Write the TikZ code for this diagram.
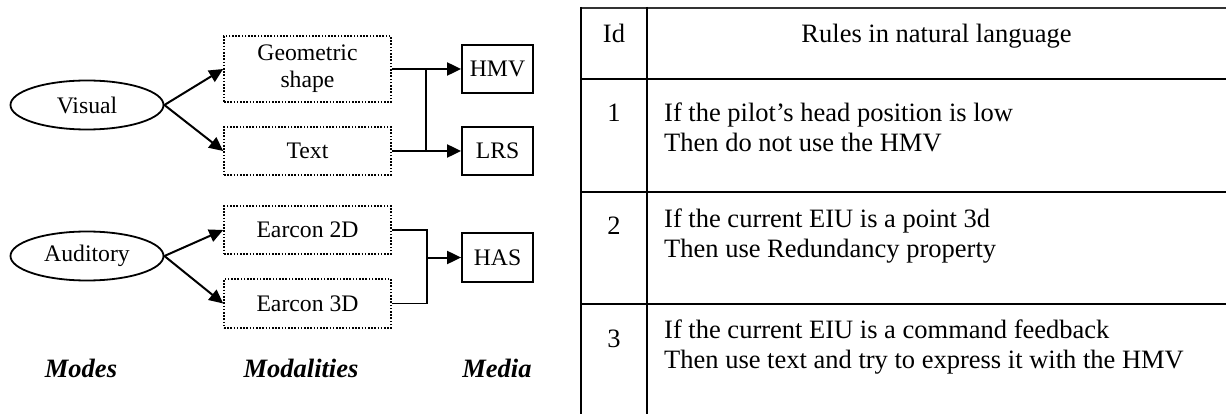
\documentclass[tikz,border=0pt]{standalone}
\usepackage{fontspec}
\setmainfont{Liberation Serif}
\usetikzlibrary{arrows.meta,shapes.geometric}

\begin{document}
\begin{tikzpicture}[x=1pt,y=-1pt,
  diag/.style={font=\fontsize{23.7}{27}\selectfont},
  mode/.style={diag, draw, ellipse, line width=1.8pt, inner sep=0pt,
    minimum width=153pt, minimum height=49pt},
  modality/.style={diag, draw, line width=1.6pt, dash pattern=on 1.6pt off 1.6pt,
    inner sep=0pt, minimum width=167pt, align=center},
  medium/.style={diag, draw, line width=1.8pt, inner sep=0pt,
    minimum width=71pt, minimum height=48pt},
  link/.style={line width=2pt},
  arr/.style={link, -{Triangle[length=14pt,width=13pt]}},
  axis/.style={font=\fontsize{26.5}{30}\selectfont\bfseries\itshape, inner sep=0pt, anchor=base},
  cell/.style={font=\fontsize{26.5}{30}\selectfont, inner sep=0pt, anchor=base west},
  num/.style={font=\fontsize{26.5}{30}\selectfont, inner sep=0pt, anchor=base},
  rule/.style={line width=2.4pt}
]
\useasboundingbox (0,0) rectangle (1226,414);

% ---------- modes, modalities and media ----------
\node[mode] (vis) at (87,105) {Visual};
\node[mode] (aud) at (87,256) {Auditory};

\node[modality, minimum height=66pt] (geo) at (307.5,69) {Geometric\\shape};
\node[modality, minimum height=48pt] (txt) at (307.5,151) {Text};
\node[modality, minimum height=48pt] (e2d) at (307.5,230) {Earcon 2D};
\node[modality, minimum height=49pt] (e3d) at (307.5,303.5) {Earcon 3D};

\node[medium] (hmv) at (497.5,69) {HMV};
\node[medium] (lrs) at (497.5,151) {LRS};
\node[medium, minimum height=49pt] (has) at (497.5,257.5) {HAS};

% junction columns
\coordinate (ja) at (426,0);
\coordinate (jb) at (427,0);

% mode -> modality
\draw[arr] (vis.east) -- (geo.west);
\draw[arr] (vis.east) -- (txt.west);
\draw[arr] (aud.east) -- (e2d.west);
\draw[arr] (aud.east) -- (e3d.west);

% visual modalities -> media
\draw[arr] (geo.east) -- (hmv.west);
\draw[arr] (txt.east) -- (lrs.west);
\draw[link] (geo.east -| ja) -- (txt.east -| ja);

% auditory modalities -> medium
\draw[link, line width=1.6pt] (e2d.east) -- (e2d.east -| jb) -- (e3d.east -| jb) -- (e3d.east);
\draw[arr] (has.west -| jb) -- (has.west);

% column captions
\node[axis] (lmodes) at (81,377) {Modes};
\node[axis] (lmodal) at (301,377) {Modalities};
\node[axis] (lmedia) at (497,377) {Media};

% ---------- rules table ----------
\draw[rule, black!80] (581,8) -- (1226,8);
\draw[rule] (581,79) -- (1226,79);
\draw[rule] (581,192) -- (1226,192);
\draw[rule] (581,304) -- (1226,304);
\draw[rule] (581,7) -- (581,414);
\draw[rule] (647,7) -- (647,414);

\node[num] (hid) at (614,43) {Id};
\node[num] (hrule) at (936.5,43) {Rules in natural language};

\node[num] (n1) at (614,122) {1};
\node[cell] (r1a) at (664,122) {If the pilot’s head position is low};
\node[cell] (r1b) at (664,152) {Then do not use the HMV};

\node[num] (n2) at (614,235) {2};
\node[cell] (r2a) at (664,227) {If the current EIU is a point 3d};
\node[cell] (r2b) at (664,257) {Then use Redundancy property};

\node[num] (n3) at (614,347) {3};
\node[cell] (r3a) at (664,338) {If the current EIU is a command feedback};
\node[cell] (r3b) at (664,368) {Then use text and try to express it with the HMV};
\end{tikzpicture}
\end{document}
